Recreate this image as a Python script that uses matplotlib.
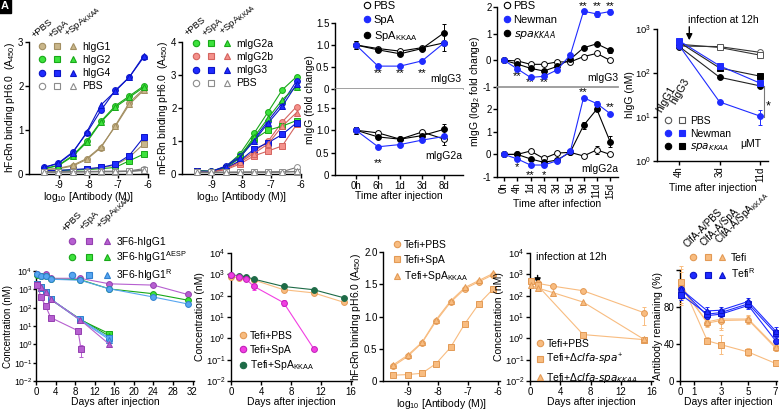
import matplotlib
matplotlib.use("Agg")
import matplotlib.pyplot as plt
from matplotlib.lines import Line2D
from matplotlib.legend_handler import HandlerTuple

plt.rcParams["font.family"] = ["Liberation Sans", "DejaVu Sans"]
plt.rcParams["font.size"] = 7
plt.rcParams["axes.linewidth"] = 1.0
plt.rcParams["axes.unicode_minus"] = False
plt.rcParams["xtick.major.width"] = 1.0
plt.rcParams["ytick.major.width"] = 1.0
plt.rcParams["xtick.major.size"] = 3
plt.rcParams["ytick.major.size"] = 3
plt.rcParams["xtick.major.pad"] = 1
plt.rcParams["ytick.major.pad"] = 1
plt.rcParams["xtick.minor.visible"] = False
plt.rcParams["ytick.minor.visible"] = False
plt.rcParams["mathtext.default"] = "regular"
plt.rcParams["axes.labelpad"] = 0.5
plt.rcParams["axes.labelsize"] = 7.5

# ---------------- data ----------------
# panel A / B : FcRn binding, 3-fold dilutions
conc_log = [-9.49, -9.01, -8.53, -8.06, -7.58, -7.10, -6.63, -6.15]

higg1_pbs = [0.10, 0.12, 0.18, 0.33, 0.60, 1.10, 1.62, 1.93]
higg1_spa = [0.08, 0.08, 0.09, 0.11, 0.14, 0.20, 0.38, 0.68]
higg1_kkaa = [0.10, 0.13, 0.20, 0.35, 0.62, 1.08, 1.58, 1.90]
higg2_pbs = [0.12, 0.20, 0.42, 0.75, 1.20, 1.55, 1.77, 2.00]
higg2_spa = [0.08, 0.08, 0.09, 0.10, 0.12, 0.15, 0.30, 0.45]
higg2_kkaa = [0.12, 0.19, 0.40, 0.72, 1.18, 1.52, 1.74, 1.97]
higg4_pbs = [0.15, 0.25, 0.50, 0.93, 1.45, 1.90, 2.20, 2.65]
higg4_spa = [0.08, 0.08, 0.10, 0.12, 0.15, 0.22, 0.42, 0.83]
higg4_kkaa = [0.15, 0.24, 0.48, 0.95, 1.57, 1.88, 2.20, 2.68]
hpbs_circle = [0.05, 0.05, 0.05, 0.06, 0.06, 0.06, 0.07, 0.12]
hpbs_square = [0.04, 0.04, 0.05, 0.05, 0.05, 0.05, 0.06, 0.08]
hpbs_tri = [0.05, 0.05, 0.05, 0.05, 0.06, 0.06, 0.06, 0.09]

migg2a_pbs = [0.10, 0.08, 0.22, 0.60, 1.23, 1.89, 2.55, 2.95]
migg2a_spa = [0.09, 0.07, 0.18, 0.48, 1.05, 1.33, 1.45, 1.62]
migg2a_kkaa = [0.10, 0.08, 0.20, 0.52, 1.12, 1.70, 2.25, 2.65]
migg2b_pbs = [0.08, 0.07, 0.16, 0.38, 0.68, 1.00, 1.58, 2.04]
migg2b_spa = [0.07, 0.06, 0.13, 0.30, 0.55, 0.70, 0.85, 1.50]
migg2b_kkaa = [0.08, 0.07, 0.15, 0.35, 0.62, 0.92, 1.45, 1.86]
migg3_pbs = [0.09, 0.08, 0.24, 0.55, 1.05, 1.62, 2.15, 2.82]
migg3_spa = [0.08, 0.07, 0.17, 0.40, 0.75, 0.95, 1.20, 1.55]
migg3_kkaa = [0.09, 0.08, 0.22, 0.50, 1.00, 1.55, 2.05, 2.72]
mpbs_circle = [0.06, 0.05, 0.05, 0.06, 0.06, 0.06, 0.07, 0.20]
mpbs_square = [0.05, 0.05, 0.05, 0.05, 0.05, 0.05, 0.06, 0.07]
mpbs_tri = [0.05, 0.05, 0.05, 0.05, 0.06, 0.06, 0.06, 0.08]

# panel C : mIgG fold change after injection
c_times = ["0h", "6h", "1d", "3d", "8d"]
c_g3_pbs = [1.00, 0.92, 0.86, 0.94, 1.05]
c_g3_spa = [1.00, 0.52, 0.52, 0.64, 1.05]
c_g3_kkaa = [1.00, 0.89, 0.80, 0.92, 1.28]
c_g3_err = [0.10, 0.03, 0.03, 0.03, 0.19]
c_g2a_pbs = [1.00, 0.94, 0.80, 0.96, 0.80]
c_g2a_spa = [1.00, 0.63, 0.68, 0.78, 0.86]
c_g2a_kkaa = [1.00, 0.85, 0.80, 0.88, 1.02]
c_g2a_err = [0.08, 0.05, 0.03, 0.03, 0.12]

# panel D : log2 fold change after infection
d_times = ["0h", "4h", "1d", "2d", "3d", "5d", "9d", "11d", "15d"]
d_g3_pbs = [0.0, -0.02, -0.15, -0.15, -0.06, -0.06, 0.14, 0.26, 0.0]
d_g3_newman = [0.0, -0.32, -0.64, -0.60, -0.36, 0.20, 1.84, 1.74, 1.83]
d_g3_newman_err = [0.0, 0.05, 0.05, 0.05, 0.05, 0.05, 0.10, 0.12, 0.10]
d_g3_kkaa = [0.0, -0.14, -0.30, -0.40, -0.23, 0.04, 0.47, 0.62, 0.38]
d_g3_kkaa_err = [0.0, 0.04, 0.04, 0.05, 0.06, 0.05, 0.05, 0.05, 0.10]
d_g2a_pbs = [0.0, 0.0, 0.15, -0.18, 0.06, 0.09, -0.07, 0.20, 0.0]
d_g2a_pbs_err = [0.0, 0.03, 0.03, 0.05, 0.04, 0.04, 0.10, 0.18, 0.03]
d_g2a_newman = [0.0, -0.20, -0.47, -0.47, -0.28, 0.13, 2.51, 2.25, 1.81]
d_g2a_newman_err = [0.0, 0.05, 0.07, 0.07, 0.12, 0.05, 0.05, 0.10, 0.05]
d_g2a_kkaa = [0.0, 0.0, -0.20, -0.35, -0.25, 0.10, 1.28, 2.00, 0.57]
d_g2a_kkaa_err = [0.0, 0.03, 0.05, 0.06, 0.07, 0.05, 0.15, 0.10, 0.25]

# panel E : hIgG in muMT mice
e_times = ["4h", "3d", "11d"]
e_g1_pbs = [410, 398, 295]
e_g3_pbs = [450, 380, 255]
e_g1_newman = [420, 22, 10.5]
e_g1_newman_err = [0, 0, 4]
e_g3_newman = [540, 146, 59]
e_g1_kkaa = [400, 80, 51]
e_g3_kkaa = [500, 130, 85]

# panel F : 3F6 variants
f_days = [0.25, 1, 2, 3, 9, 15, 24, 31]
f_days_spa = [0.25, 1, 2, 3, 9, 15]
f_days_g1_spa = [0.25, 1, 2, 3, 8.6, 9.2]
f_g1_pbs = [6450, 5500, 6450, 4000, 4000, 2000, 1700, 525]
f_g1_spa = [1780, 380, 117, 29, 5.5, 0.55]
f_g1_spa_err = [0, 0, 0, 0, 0, 0.35]
f_g1_kkaa = [1900, 1260, 720, 290, 22, 1.0]
f_aesp_pbs = [6300, 5500, 5600, 3550, 3400, 1050, 575, 257]
f_aesp_spa = [1900, 1260, 720, 290, 22, 3.8]
f_aesp_kkaa = [1850, 1200, 700, 280, 24, 2.8]
f_r_pbs = [7000, 5600, 5600, 3550, 3150, 1070, 380, 160]
f_r_spa = [1950, 1300, 740, 300, 23, 2.2]
f_r_kkaa = [1800, 1250, 700, 285, 21, 1.8]

# panel G : Tefi
g_days = [0, 1, 2, 3, 7, 11, 15]
g_days_spa = [0, 1, 2, 3, 7, 11]
g_pbs = [775, 675, 650, 550, 190, 135, 49]
g_spa = [955, 775, 600, 280, 47, 0.33]
g_spa_err = [0, 0, 0, 90, 15, 0]
g_kkaa = [930, 870, 775, 600, 270, 190, 80]

# panel H : hFcRn binding of Tefi
h_pbs = [0.23, 0.38, 0.59, 0.93, 1.22, 1.43, 1.54, 1.65]
h_spa = [0.09, 0.10, 0.12, 0.27, 0.52, 0.89, 1.20, 1.43]
h_kkaa = [0.25, 0.40, 0.60, 0.95, 1.24, 1.45, 1.56, 1.67]

# panel I : Tefi after infection
i_days = [0.17, 1, 3, 7, 15]
i_days_sq = [0.17, 1, 7, 15]
i_pbs = [480, 380, 280, 170, 16]
i_pbs_err = [0, 0, 0, 0, 12]
i_spa = [500, 300, 1.5, 0.87]
i_kkaa = [300, 230, 140, 50, 0.9]

# panel J : antibody remaining
j_days = [0.1, 2, 3, 5, 7]
j_tefi_pbs = [102.6, 62.6, 65.4, 66.0, 35.6]
j_tefi_spa = [106.8, 43.5, 39.3, 31.3, 19.0]
j_tefi_kkaa = [100.0, 64.0, 67.0, 67.0, 37.0]
j_tefi_err = [18, 4, 10, 4, 3]
j_tefir_pbs = [99.0, 70.6, 72.3, 81.7, 43.5]
j_tefir_spa = [93.0, 72.3, 74.0, 83.5, 51.5]
j_tefir_kkaa = [99.0, 75.8, 76.5, 86.0, 54.0]
j_tefir_err = [5, 4, 4, 4, 4]

# ---------------- colours ----------------
TAN, TAN_E = "#c9b68a", "#a38f62"
GRN, GRN_E = "#3de23d", "#18a818"
BLU, BLU_E = "#1f2bff", "#0a14c8"
RED, RED_E = "#f4918b", "#d4645f"
GRY_E = "#8c8c8c"
PUR, PUR_E = "#b65fd0", "#9440b0"
LBL, LBL_E = "#57a6f0", "#2f80d0"
ORA, ORA_E = "#f8bc80", "#e39a55"
MAG = "#f23ee2"
DGR = "#1e6b47"

W, H = 779, 415
fig = plt.figure(figsize=(W / 100, H / 100), dpi=100)


def box(left, top, right, bottom):
    return fig.add_axes([left / W, 1 - bottom / H, (right - left) / W, (bottom - top) / H])


def style(ax):
    for s in ("top", "right"):
        ax.spines[s].set_visible(False)
    ax.tick_params(direction="out", length=3, width=1, labelsize=7)


def series(ax, x, y, marker, face, edge, line=None, err=None, ms=4.2, lw=0.8, z=3):
    ax.errorbar(x, y, yerr=err, color=line or edge, lw=lw, marker=marker, mfc=face,
                mec=edge, ms=ms, mew=0.7, capsize=1.5, elinewidth=0.7, zorder=z,
                clip_on=False)


def proxy(marker, face, edge, ms=4.6):
    return Line2D([], [], ls="none", marker=marker, mfc=face, mec=edge, ms=ms, mew=0.8)


def legend_at(ax, handles, labels, x, y, n=1, spacing=14, fs=7.5, gap=2, rows=0.3):
    fpx = fs * 100 / 72
    hl = n * spacing / fpx
    hmap = {tuple: HandlerTuple(ndivide=None, pad=0)} if n > 1 else None
    leg = ax.legend(handles, labels, handler_map=hmap, loc="upper left",
                    bbox_to_anchor=(x / W, 1 - y / H), bbox_transform=fig.transFigure,
                    frameon=False, fontsize=fs, handlelength=hl, handletextpad=gap / fpx,
                    labelspacing=rows, borderpad=0, borderaxespad=0, handleheight=0.7)
    leg.set_zorder(10)
    return leg


def ftext(x, y, s, **kw):
    fig.text(x / W, 1 - y / H, s, **kw)


def headers(items, rot=40, fs=6.8):
    for x, y, s in items:
        ftext(x, y, s, rotation=rot, ha="left", va="bottom", rotation_mode="anchor", fontsize=fs)


def log_axis(ax, lo, hi):
    ax.set_yscale("log")
    ax.set_ylim(lo, hi)
    ax.minorticks_off()
    ax.tick_params(axis="y", labelsize=6.8)


MK = ["o", "s", "^"]
SPA_K = "+SpA$_{KKAA}$"
BOT = 381

# ---------------- panel A ----------------
ax = box(29, 42, 148, 174)
style(ax)
for vals, f, e in [(higg1_pbs, TAN, TAN_E), (higg2_pbs, GRN, GRN_E), (higg4_pbs, BLU, BLU_E)]:
    series(ax, conc_log, vals, "o", f, e)
for vals, f, e in [(higg1_spa, TAN, TAN_E), (higg2_spa, GRN, GRN_E), (higg4_spa, BLU, BLU_E)]:
    series(ax, conc_log, vals, "s", f, e)
for vals, f, e in [(higg1_kkaa, TAN, TAN_E), (higg2_kkaa, GRN, GRN_E), (higg4_kkaa, BLU, BLU_E)]:
    series(ax, conc_log, vals, "^", f, e)
for vals, m in [(hpbs_circle, "o"), (hpbs_square, "s"), (hpbs_tri, "^")]:
    series(ax, conc_log, vals, m, "white", GRY_E, line="#777777")
ax.set_xlim(-10, -6)
ax.set_ylim(0, 3)
ax.set_xticks([-9, -8, -7, -6])
ax.set_yticks([0, 1, 2, 3])
ax.set_xlabel("log$_{10}$ [Antibody (M)]")
ax.set_ylabel("hFcRn binding pH6.0  (A$_{450}$)")
rowsA = [tuple(proxy(m, f, e) for m in MK) for f, e in
         [(TAN, TAN_E), (GRN, GRN_E), (BLU, BLU_E), ("white", GRY_E)]]
legend_at(ax, rowsA, ["hIgG1", "hIgG2", "hIgG4", "PBS"], 34, 42, n=3, spacing=15.5, gap=2)
headers([(36, 40, "+PBS"), (53, 40, "+SpA"), (70, 40, SPA_K)])

# ---------------- panel B ----------------
ax = box(182, 42, 301, 174)
style(ax)
for vals, f, e in [(migg2a_pbs, GRN, GRN_E), (migg2b_pbs, RED, RED_E), (migg3_pbs, BLU, BLU_E)]:
    series(ax, conc_log, vals, "o", f, e)
for vals, f, e in [(migg2a_spa, GRN, GRN_E), (migg2b_spa, RED, RED_E), (migg3_spa, BLU, BLU_E)]:
    series(ax, conc_log, vals, "s", f, e)
for vals, f, e in [(migg2a_kkaa, GRN, GRN_E), (migg2b_kkaa, RED, RED_E), (migg3_kkaa, BLU, BLU_E)]:
    series(ax, conc_log, vals, "^", f, e)
for vals, m in [(mpbs_circle, "o"), (mpbs_square, "s"), (mpbs_tri, "^")]:
    series(ax, conc_log, vals, m, "white", GRY_E, line="#777777")
ax.set_xlim(-10, -6)
ax.set_ylim(0, 4)
ax.set_xticks([-9, -8, -7, -6])
ax.set_yticks([0, 1, 2, 3, 4])
ax.set_xlabel("log$_{10}$ [Antibody (M)]")
ax.set_ylabel("mFcRn binding pH6.0  (A$_{450}$)")
rowsB = [tuple(proxy(m, f, e) for m in MK) for f, e in
         [(GRN, GRN_E), (RED, RED_E), (BLU, BLU_E), ("white", GRY_E)]]
legend_at(ax, rowsB, ["mIgG2a", "mIgG2b", "mIgG3", "PBS"], 188, 39, n=3, spacing=15.5, gap=2)
headers([(189, 38, "+PBS"), (207, 38, "+SpA"), (225, 38, SPA_K)])

# ---------------- panel C ----------------
axt = box(335, 23, 463, 89)
axb = box(335, 89, 463, 175)
cx = list(range(len(c_times)))
for a, pbs, spa, kk, err in [(axt, c_g3_pbs, c_g3_spa, c_g3_kkaa, c_g3_err),
                            (axb, c_g2a_pbs, c_g2a_spa, c_g2a_kkaa, c_g2a_err)]:
    style(a)
    series(a, cx, pbs, "o", "white", "black", line="black", err=err)
    series(a, cx, kk, "o", "black", "black", line="black", err=err)
    series(a, cx, spa, "o", BLU, BLU, line=BLU)
    a.set_xlim(-0.95, 4.85)
axt.set_ylim(0, 1.5)
axt.set_yticks([0, 0.5, 1.0, 1.5])
axt.set_yticklabels(["0", "0.5", "1.0", "1.5"])
axt.set_xticks([])
axt.spines["bottom"].set_color("#999999")
axt.spines["bottom"].set_linewidth(1.3)
axb.set_ylim(0, 1.92)
axb.set_yticks([0, 0.5, 1.0, 1.5])
axb.set_yticklabels(["0", "0.5", "1.0", "1.5"])
axb.set_xticks(cx)
axb.set_xticklabels(c_times)
axb.set_xlabel("Time after injection")
axb.set_ylabel("mIgG (fold change)")
axb.yaxis.label.set_y(0.88)
for i in [1, 2, 3]:
    axt.text(i, 0.37, "**", ha="center", va="center", fontsize=8)
axb.text(1, 0.26, "**", ha="center", va="center", fontsize=8)
axt.text(4.8, 0.12, "mIgG3", ha="right", va="bottom", fontsize=7.5)
axb.text(4.8, 0.32, "mIgG2a", ha="right", va="bottom", fontsize=7.5)
legend_at(axt, [proxy("o", "white", "black"), proxy("o", BLU, BLU), proxy("o", "black", "black")],
          ["PBS", "SpA", "SpA$_{KKAA}$"], 363, 1, spacing=8, gap=2.5, rows=0.35, fs=8)

# ---------------- panel D ----------------
dtop = box(497, 7, 618, 87)
dbot = box(497, 88, 618, 177)
dx = list(range(len(d_times)))
style(dtop)
style(dbot)
series(dtop, dx, d_g3_pbs, "o", "white", "black", line="black")
series(dtop, dx, d_g3_kkaa, "o", "black", "black", line="black", err=d_g3_kkaa_err)
series(dtop, dx, d_g3_newman, "o", BLU, BLU, line=BLU, err=d_g3_newman_err)
series(dbot, dx, d_g2a_pbs, "o", "white", "black", line="black", err=d_g2a_pbs_err)
series(dbot, dx, d_g2a_kkaa, "o", "black", "black", line="black", err=d_g2a_kkaa_err)
series(dbot, dx, d_g2a_newman, "o", BLU, BLU, line=BLU, err=d_g2a_newman_err)
for a in (dtop, dbot):
    a.set_xlim(-0.53, 8.6)
dtop.set_ylim(-1, 2)
dtop.set_yticks([-1, 0, 1, 2])
dtop.set_xticks([])
dtop.spines["bottom"].set_color("#999999")
dtop.spines["bottom"].set_linewidth(1.3)
dbot.set_ylim(-1, 2.94)
dbot.set_yticks([-1, 0, 1, 2])
dbot.set_xticks(dx)
dbot.set_xticklabels(d_times, rotation=90)
dbot.set_xlabel("Time after infection")
dbot.set_ylabel("mIgG (log$_2$ fold change)")
dbot.yaxis.label.set_y(0.96)
for i, y, s in [(1, -0.58, "**"), (2, -0.82, "**"), (3, -0.82, "**"),
                (6, 2.05, "**"), (7, 2.05, "**"), (8, 2.05, "**")]:
    dtop.text(i, y, s, ha="center", va="center", fontsize=8)
for i, y, s in [(1, -0.55, "*"), (2, -0.9, "**"), (3, -0.9, "*"),
                (6, 2.78, "**"), (8, 2.1, "**")]:
    dbot.text(i, y, s, ha="center", va="center", fontsize=8)
dtop.text(8.6, -0.85, "mIgG3", ha="right", va="bottom", fontsize=7.5)
dbot.text(8.6, -0.85, "mIgG2a", ha="right", va="bottom", fontsize=7.5)
legend_at(dtop, [proxy("o", "white", "black"), proxy("o", BLU, BLU), proxy("o", "black", "black")],
          ["PBS", "Newman", r"$\mathit{spa}_{\mathit{KKAA}}$"], 503, 1, spacing=8, gap=2.5,
          rows=0.35, fs=8)

# ---------------- panel E ----------------
ax = box(657, 29, 768, 161)
style(ax)
ex = list(range(len(e_times)))
series(ax, ex, e_g1_pbs, "o", "white", "#555555", line="#333333")
series(ax, ex, e_g3_pbs, "s", "white", "#555555", line="#333333")
series(ax, ex, e_g1_kkaa, "o", "black", "black", line="#222222")
series(ax, ex, e_g3_kkaa, "s", "black", "black", line="#222222")
series(ax, ex, e_g1_newman, "o", BLU, BLU, line=BLU, err=e_g1_newman_err)
series(ax, ex, e_g3_newman, "s", BLU, BLU, line=BLU)
log_axis(ax, 1, 1000)
ax.set_xlim(-0.55, 2.2)
ax.set_xticks(ex)
ax.set_xticklabels(e_times, rotation=90)
ax.set_xlabel("Time after injection")
ax.set_ylabel("hIgG (nM)")
ax.plot([2.1, 2.1], [10, 50], color="#777777", lw=0.8, clip_on=False)
ax.text(2.2, 17, "*", ha="center", va="center", fontsize=9)
ax.text(1.78, 2.4, "μMT", ha="center", va="center", fontsize=7.5)
ax.annotate("", xy=(0.25, 480), xytext=(0.25, 1300),
            arrowprops=dict(arrowstyle="-|>", color="black", lw=1, mutation_scale=9),
            annotation_clip=False)
ftext(723, 20, "infection at 12h", ha="center", va="center", fontsize=7.5)
headers([(663, 114, "hIgG1"), (677, 106, "hIgG3")], rot=60, fs=7.5)
rowsE = [(proxy("o", "white", "#555555"), proxy("s", "white", "#555555")),
         (proxy("o", BLU, BLU), proxy("s", BLU, BLU)),
         (proxy("o", "black", "black"), proxy("s", "black", "black"))]
legend_at(ax, rowsE, ["PBS", "Newman", r"$\mathit{spa}_{\mathit{KKAA}}$"], 661, 116, n=2,
          spacing=14, gap=1.5, rows=0.25)

# ---------------- panel F ----------------
ax = box(36, 271, 194, BOT)
style(ax)
series(ax, f_days, f_g1_pbs, "o", PUR, PUR_E, line=PUR)
series(ax, f_days, f_aesp_pbs, "o", GRN, GRN_E, line=GRN_E)
series(ax, f_days, f_r_pbs, "o", LBL, LBL_E, line=LBL)
series(ax, f_days_spa, f_aesp_spa, "s", GRN, GRN_E, line=GRN_E)
series(ax, f_days_spa, f_aesp_kkaa, "^", GRN, GRN_E, line=GRN_E)
series(ax, f_days_spa, f_r_spa, "s", LBL, LBL_E, line=LBL)
series(ax, f_days_spa, f_r_kkaa, "^", LBL, LBL_E, line=LBL)
series(ax, f_days_spa, f_g1_kkaa, "^", PUR, PUR_E, line=PUR)
series(ax, f_days_g1_spa, f_g1_spa, "s", PUR, PUR_E, line=PUR, err=f_g1_spa_err)
log_axis(ax, 1e-2, 1e4)
ax.tick_params(axis="y", labelsize=6.3, length=2, pad=0.5)
ax.set_xlim(0, 32.3)
ax.set_xticks(range(0, 33, 4))
ax.set_xlabel("Days after injection")
ax.set_ylabel("Concentration (nM)", fontsize=7)
ax.yaxis.set_label_coords(-0.148, 0.5)
rowsF = [tuple(proxy(m, f, e) for m in MK) for f, e in
         [(PUR, PUR_E), (GRN, GRN_E), (LBL, LBL_E)]]
legend_at(ax, rowsF, ["3F6-hIgG1", "3F6-hIgG1$^{AESP}$", "3F6-hIgG1$^{R}$"], 63, 237, n=3,
          spacing=17.5, gap=1, rows=0.2)
headers([(67, 233, "+PBS"), (85, 232, "+SpA"), (103, 232, SPA_K)], rot=46)

# ---------------- panel G ----------------
ax = box(231, 253, 352, BOT)
style(ax)
series(ax, g_days, g_pbs, "o", ORA, ORA_E, line=ORA)
series(ax, g_days, g_kkaa, "o", DGR, DGR, line=DGR)
series(ax, g_days_spa, g_spa, "o", MAG, "#c020b8", line=MAG, err=g_spa_err)
log_axis(ax, 1e-2, 1e4)
ax.set_xlim(0, 16.1)
ax.set_xticks([0, 4, 8, 12, 16])
ax.set_xlabel("Days after injection")
ax.set_ylabel("Concentration (nM)")
legend_at(ax, [proxy("o", ORA, ORA_E), proxy("o", MAG, "#c020b8"), proxy("o", DGR, DGR)],
          ["Tefi+PBS", "Tefi+SpA", "Tefi+SpA$_{KKAA}$"], 239, 331, spacing=8, gap=2.5, rows=0.35)

# ---------------- panel H ----------------
ax = box(383, 252, 500, BOT)
style(ax)
series(ax, conc_log, h_pbs, "o", ORA, ORA_E, line=ORA)
series(ax, conc_log, h_kkaa, "^", ORA, ORA_E, line=ORA)
series(ax, conc_log, h_spa, "s", ORA, ORA_E, line=ORA)
ax.set_xlim(-9.83, -5.93)
ax.set_ylim(0, 2.0)
ax.set_xticks([-9, -8, -7, -6])
ax.set_yticks([0, 0.5, 1.0, 1.5, 2.0])
ax.set_yticklabels(["0", "0.5", "1.0", "1.5", "2.0"])
ax.set_xlabel("log$_{10}$ [Antibody (M)]")
ax.set_ylabel("hFcRn binidng pH6.0 (A$_{450}$)")
legend_at(ax, [proxy("o", ORA, ORA_E), proxy("s", ORA, ORA_E), proxy("^", ORA, ORA_E)],
          ["Tefi+PBS", "Tefi+SpA", "Tefi+SpA$_{KKAA}$"], 393, 240, spacing=8, gap=2.5, rows=0.45)

# ---------------- panel I ----------------
ax = box(530, 253, 653, BOT)
style(ax)
series(ax, i_days, i_pbs, "o", ORA, ORA_E, line=ORA, err=i_pbs_err)
series(ax, i_days_sq, i_spa, "s", ORA, ORA_E, line=ORA)
series(ax, i_days, i_kkaa, "^", ORA, ORA_E, line=ORA)
log_axis(ax, 1e-2, 1e4)
ax.set_xlim(0, 16.2)
ax.set_xticks([0, 4, 8, 12, 16])
ax.set_xlabel("Days after injection")
ax.set_ylabel("Concentration (nM)")
ax.annotate("", xy=(1, 250), xytext=(1, 1200),
            arrowprops=dict(arrowstyle="-|>", color="black", lw=1, mutation_scale=9))
ax.text(0.8, 6600, "infection at 12h", ha="left", va="center", fontsize=7.5)
legend_at(ax, [proxy("o", ORA, ORA_E), proxy("s", ORA, ORA_E), proxy("^", ORA, ORA_E)],
          ["Tefi+PBS", r"Tefi+$\Delta\mathit{clfa}$-$\mathit{spa}^{+}$",
           r"Tefi+$\Delta\mathit{clfa}$-$\mathit{spa}_{\mathit{KKAA}}$"],
          536, 339, spacing=8, gap=2.5, rows=0.3)

# ---------------- panel J ----------------
ax = box(680, 270, 777, BOT)
style(ax)
series(ax, j_days, j_tefi_pbs, "o", ORA, ORA_E, line=ORA, err=j_tefi_err)
series(ax, j_days, j_tefi_kkaa, "^", ORA, ORA_E, line=ORA, err=j_tefi_err)
series(ax, j_days, j_tefi_spa, "s", ORA, ORA_E, line=ORA, err=j_tefi_err)
series(ax, j_days, j_tefir_pbs, "o", BLU, BLU_E, line=BLU, err=j_tefir_err)
series(ax, j_days, j_tefir_spa, "s", BLU, BLU_E, line=BLU, err=j_tefir_err)
series(ax, j_days, j_tefir_kkaa, "^", BLU, BLU_E, line=BLU, err=j_tefir_err)
ax.set_xlim(0, 7.1)
ax.set_ylim(0, 120)
ax.set_xticks([0, 1, 3, 5, 7])
ax.set_yticks([0, 40, 80, 120])
ax.set_yticklabels(["0", "40", "80", ""])
ax.set_xlabel("Days after injection")
ax.set_ylabel("Antibody remaining (%)")
rowsJ = [tuple(proxy(m, ORA, ORA_E) for m in MK), tuple(proxy(m, BLU, BLU_E) for m in MK)]
legend_at(ax, rowsJ, ["Tefi", "Tefi$^{R}$"], 686, 253, n=3, spacing=14.5, gap=1.5, rows=0.35)
headers([(689, 249, "ClfA-A/PBS"), (706, 248, "ClfA-A/SpA"), (722, 247, "ClfA-A/SpA$_{KKAA}$")],
        rot=45, fs=7)

# panel letter
ftext(1, 11, "A", color="white", fontsize=8, fontweight="bold", va="bottom", ha="left",
      bbox=dict(boxstyle="square,pad=0.15", fc="black", ec="black"))

fig.savefig("out.png", dpi=100)
